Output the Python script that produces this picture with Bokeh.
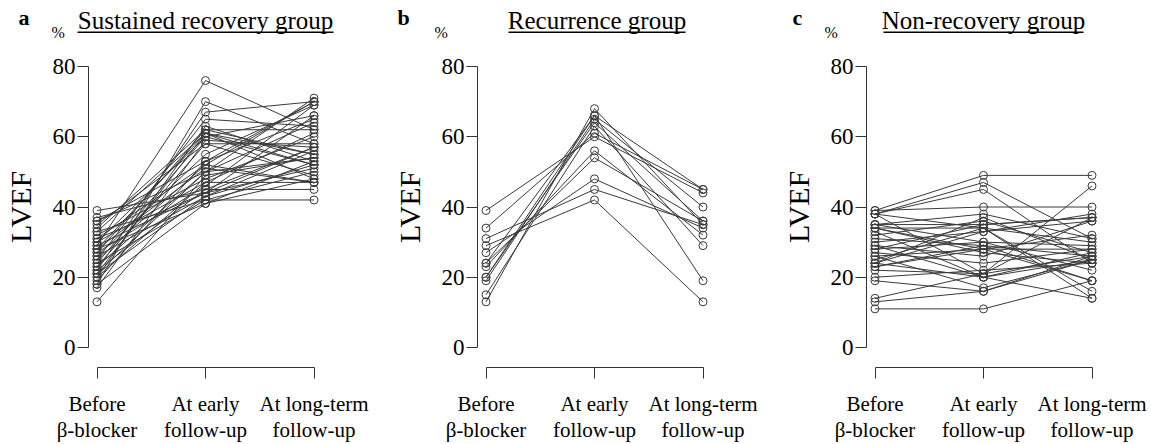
from bokeh.plotting import figure
from bokeh.models import FixedTicker, Label, BoxAnnotation, Range1d, LinearAxis
from bokeh.layouts import row
from bokeh.embed import file_html
from bokeh.resources import INLINE

# ---------------- data ----------------
time_points = [1, 2, 3]
time_labels = ["Before\nβ-blocker", "At early\nfollow-up", "At long-term\nfollow-up"]
y_ticks = [0, 20, 40, 60, 80]

# a: Sustained recovery group (LVEF %, per patient)
a_before = [29, 18, 22, 25, 20, 27, 33, 21, 24, 30, 17, 35, 26, 19, 31, 28, 36, 23, 13, 32,
            20, 27, 37, 22, 29, 39, 21, 26, 33, 24, 28, 18, 30, 36, 23, 28, 25, 34, 31, 21]
a_early = [76, 70, 67, 65, 63, 62, 61, 61, 60, 60, 59, 58, 55, 53, 52, 51, 50, 50, 49, 48,
           47, 46, 45, 45, 44, 44, 43, 43, 42, 42, 41, 41, 47, 53, 58, 61, 52, 62, 44, 50]
a_long = [62, 58, 70, 63, 53, 62, 48, 55, 66, 52, 57, 58, 69, 65, 70, 47, 64, 71, 54, 60,
          47, 69, 45, 57, 51, 66, 52, 56, 42, 50, 53, 48, 61, 70, 49, 52, 47, 55, 57, 54]

# b: Recurrence group
b_before = [39, 34, 31, 29, 27, 24, 23, 20, 19, 15, 13, 20, 24]
b_early = [60, 61, 45, 42, 48, 54, 56, 66, 65, 63, 68, 64, 66]
b_long = [44, 45, 35, 13, 34, 36, 32, 19, 40, 29, 35, 36, 45]

# c: Non-recovery group
c_before = [39, 38, 38, 39, 38, 38, 35, 34, 34, 33, 35, 32, 31, 30, 29, 28, 27, 26, 25, 24,
            24, 23, 22, 20, 19, 14, 13, 11, 24, 34, 35, 28, 26, 29, 23]
c_early = [49, 47, 45, 40, 34, 21, 35, 34, 28, 20, 38, 36, 29, 33, 26, 30, 24, 28, 34, 37,
           20, 29, 21, 22, 16, 21, 16, 11, 33, 27, 30, 35, 17, 20, 28]
c_long = [49, 31, 24, 40, 14, 26, 37, 16, 19, 25, 31, 27, 26, 38, 36, 22, 28, 32, 30, 25,
          27, 19, 37, 24, 26, 46, 25, 19, 36, 24, 29, 37, 25, 14, 28]

# ---------------- layout constants ----------------
FONT = "Liberation Serif"
PXU_X = 108.5            # px per category step
PXU_Y = 3.5125           # px per LVEF unit
AXIS_PX = 88             # y axis position from figure left
PAD = 8.5                # px between y axis and first category
FIG_H = 444
LINE_COL = "#3a3a3a"
AX_COL = "#333333"


def xd(px):  # px relative to the y axis -> data x
    return 1 + (px - PAD) / PXU_X


def yd(py):  # pixel row from the top -> data y
    return (347 - py) / PXU_Y


def make_panel(letter, title, before, early, late, width,
               letter_dx, pct_dx, title_cx, ul_l, ul_r):
    x0 = xd(-AXIS_PX)
    x1 = x0 + width / PXU_X
    p = figure(frame_width=width, frame_height=FIG_H,
               min_border_left=0, min_border_right=0,
               min_border_top=0, min_border_bottom=0,
               x_range=Range1d(x0, x1), y_range=Range1d(yd(FIG_H), yd(0)),
               x_axis_location=None, y_axis_location=None,
               output_backend="svg", toolbar_location=None)
    p.outline_line_color = None
    p.xgrid.visible = False
    p.ygrid.visible = False
    p.background_fill_color = "white"
    p.border_fill_color = "white"

    xs = [time_points for _ in before]
    ys = [[b, e, l] for b, e, l in zip(before, early, late)]
    p.multi_line(xs, ys, line_color=LINE_COL, line_width=1)
    for tp, vals in zip(time_points, [before, early, late]):
        p.scatter([tp] * len(vals), vals, marker="circle", size=8,
                  fill_color=None, line_color=LINE_COL, line_width=1)

    xa = LinearAxis(fixed_location=yd(367), bounds=(1, 3),
                    ticker=FixedTicker(ticks=time_points))
    xa.major_label_overrides = {t: lab for t, lab in zip(time_points, time_labels)}
    xa.minor_tick_line_color = None
    xa.major_tick_out = 11
    xa.major_tick_in = 0
    xa.axis_line_color = AX_COL
    xa.major_tick_line_color = AX_COL
    xa.major_label_text_font = FONT
    xa.major_label_text_font_size = "21px"
    xa.major_label_text_color = "black"
    xa.major_label_text_line_height = 1.12
    xa.major_label_standoff = 13
    p.add_layout(xa, "below")

    ya = LinearAxis(fixed_location=xd(0), bounds=(0, 80),
                    ticker=FixedTicker(ticks=y_ticks))
    ya.minor_tick_line_color = None
    ya.major_tick_out = 11
    ya.major_tick_in = 0
    ya.axis_line_color = AX_COL
    ya.major_tick_line_color = AX_COL
    ya.major_label_text_font = FONT
    ya.major_label_text_font_size = "23px"
    ya.major_label_text_color = "black"
    ya.major_label_standoff = 2
    ya.axis_label = "LVEF"
    ya.axis_label_text_font = FONT
    ya.axis_label_text_font_size = "30px"
    ya.axis_label_text_font_style = "normal"
    ya.axis_label_text_color = "black"
    ya.axis_label_standoff = 13
    p.add_layout(ya, "left")

    p.add_layout(Label(x=xd(letter_dx), y=yd(17), text=letter, text_font=FONT,
                       text_font_style="bold", text_font_size="22px",
                       text_baseline="alphabetic", text_color="black"))
    p.add_layout(Label(x=xd(pct_dx), y=yd(32), text="%", text_font=FONT,
                       text_font_size="16px", text_baseline="alphabetic",
                       text_color="black"))
    p.add_layout(Label(x=xd(title_cx), y=yd(20), text=title, text_font=FONT,
                       text_font_size="25px", text_align="center",
                       text_baseline="alphabetic", text_color="black"))
    p.add_layout(BoxAnnotation(left=xd(ul_l), right=xd(ul_r), top=yd(31), bottom=yd(32.5),
                               fill_color="black", fill_alpha=1, line_color=None,
                               level="overlay"))
    return p


pa = make_panel("a", "Sustained recovery group", a_before, a_early, a_long, 389,
                -70, -37, 117, -11, 245)
pb = make_panel("b", "Recurrence group", b_before, b_early, b_long, 389,
                -80, -43, 119.5, 31, 208)
pc = make_panel("c", "Non-recovery group", c_before, c_early, c_long, 373,
                -74, -42, 117, 17, 217)

layout = row(pa, pb, pc, spacing=0)
open("out.html", "w").write(file_html(layout, INLINE))
